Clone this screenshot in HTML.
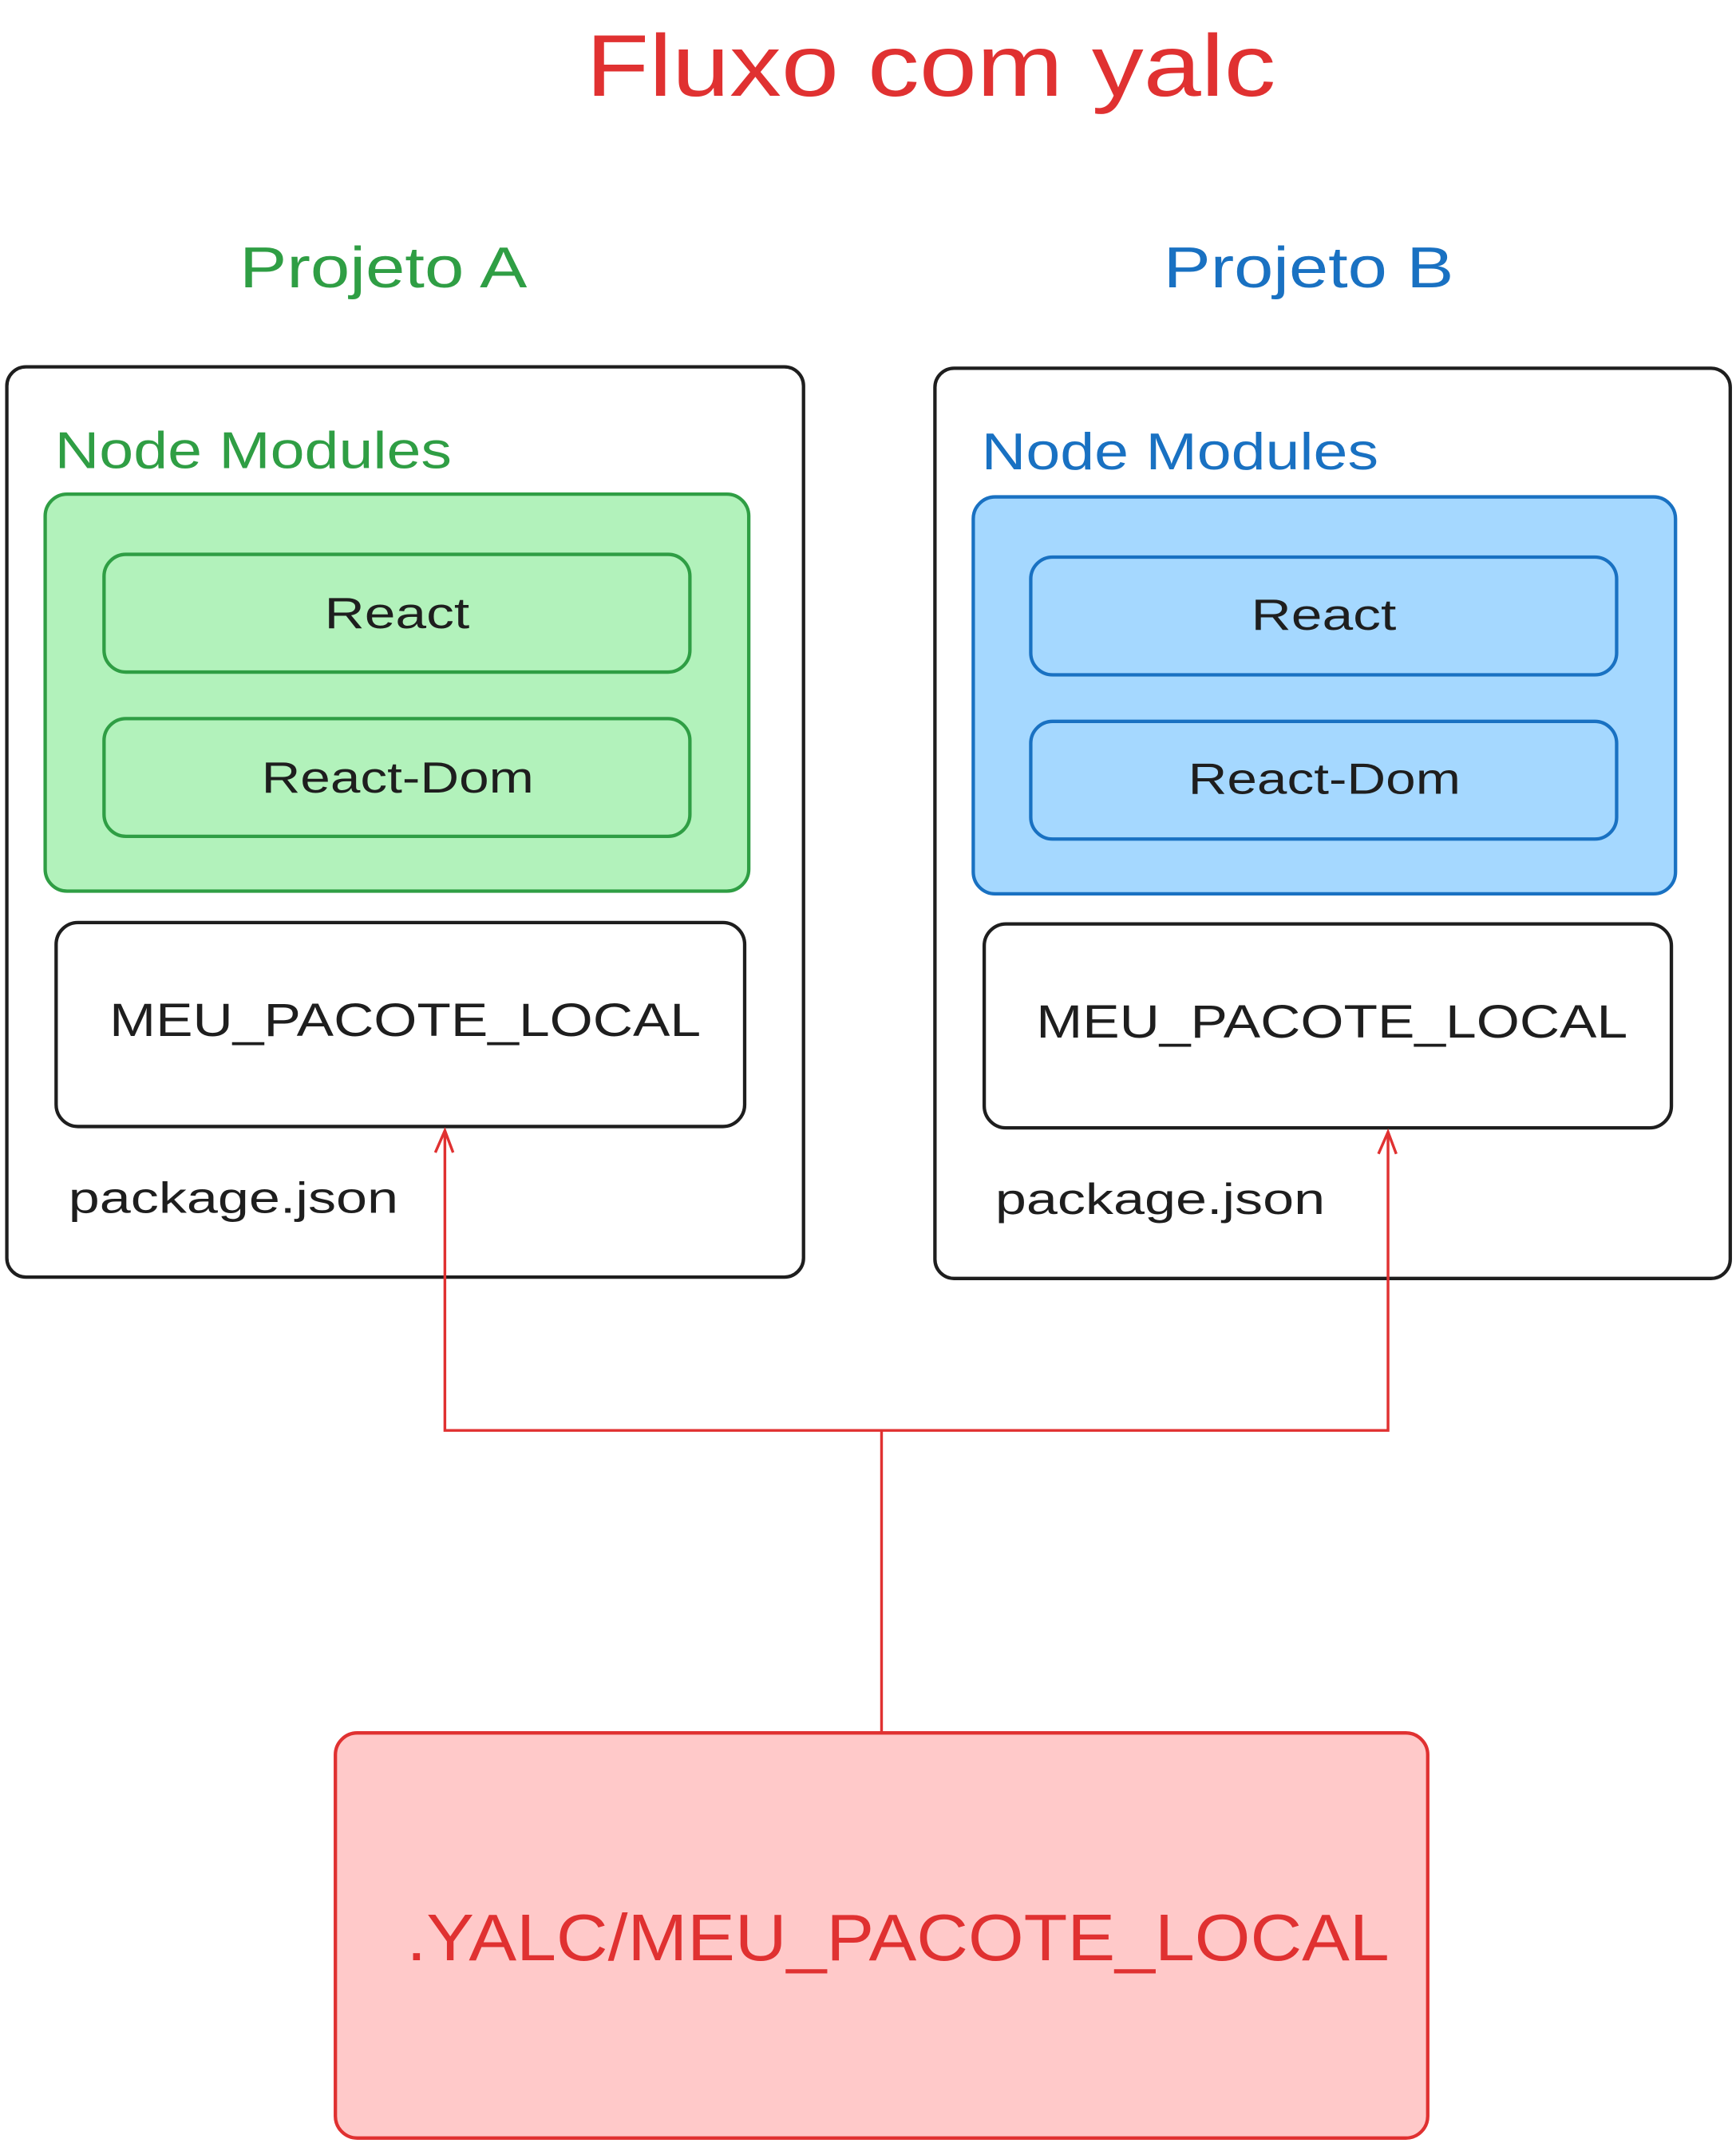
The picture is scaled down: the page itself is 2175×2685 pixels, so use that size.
<!DOCTYPE html>
<html><head><meta charset="utf-8"><style>
html,body{margin:0;padding:0;background:#fff;}
svg{display:block;}
text{font-family:"Liberation Sans",sans-serif;}
</style></head><body>
<svg width="2175" height="2685" viewBox="0 0 1268.2 1565.6" preserveAspectRatio="none" xmlns="http://www.w3.org/2000/svg">
<rect width="1268.2" height="1565.6" fill="#fff"/>
<text x="428" y="70" font-size="64" fill="#e03131" textLength="504" lengthAdjust="spacingAndGlyphs">Fluxo com yalc</text>
<text x="175" y="210" font-size="42" fill="#2f9e44" textLength="210" lengthAdjust="spacingAndGlyphs">Projeto A</text>
<text x="850" y="210" font-size="42" fill="#1971c2" textLength="212" lengthAdjust="spacingAndGlyphs">Projeto B</text>

<!-- Box A -->
<rect x="5" y="268" width="582" height="665" rx="14" fill="#fff" stroke="#1e1e1e" stroke-width="2.5"/>
<text x="40" y="342" font-size="38" fill="#2f9e44" textLength="290" lengthAdjust="spacingAndGlyphs">Node Modules</text>
<rect x="33" y="361" width="514" height="290" rx="16" fill="#b2f2bb" stroke="#2f9e44" stroke-width="2.5"/>
<rect x="76" y="405" width="428" height="86" rx="16" fill="#b2f2bb" stroke="#2f9e44" stroke-width="2.5"/>
<text x="237" y="459" font-size="32" fill="#1e1e1e" textLength="106" lengthAdjust="spacingAndGlyphs">React</text>
<rect x="76" y="525" width="428" height="86" rx="16" fill="#b2f2bb" stroke="#2f9e44" stroke-width="2.5"/>
<text x="191" y="579" font-size="32" fill="#1e1e1e" textLength="199" lengthAdjust="spacingAndGlyphs">React-Dom</text>
<rect x="41" y="674" width="503" height="149" rx="16" fill="#fff" stroke="#1e1e1e" stroke-width="2.5"/>
<text x="80" y="757" font-size="34" fill="#1e1e1e" textLength="432" lengthAdjust="spacingAndGlyphs">MEU_PACOTE_LOCAL</text>
<text x="50" y="886" font-size="32" fill="#1e1e1e" textLength="241" lengthAdjust="spacingAndGlyphs">package.json</text>

<!-- Box B -->
<rect x="683" y="269" width="581" height="665" rx="14" fill="#fff" stroke="#1e1e1e" stroke-width="2.5"/>
<text x="717" y="343" font-size="38" fill="#1971c2" textLength="290" lengthAdjust="spacingAndGlyphs">Node Modules</text>
<rect x="711" y="363" width="513" height="290" rx="16" fill="#a5d8ff" stroke="#1971c2" stroke-width="2.5"/>
<rect x="753" y="407" width="428" height="86" rx="16" fill="#a5d8ff" stroke="#1971c2" stroke-width="2.5"/>
<text x="914" y="460" font-size="32" fill="#1e1e1e" textLength="106" lengthAdjust="spacingAndGlyphs">React</text>
<rect x="753" y="527" width="428" height="86" rx="16" fill="#a5d8ff" stroke="#1971c2" stroke-width="2.5"/>
<text x="868" y="580" font-size="32" fill="#1e1e1e" textLength="199" lengthAdjust="spacingAndGlyphs">React-Dom</text>
<rect x="719" y="675" width="502" height="149" rx="16" fill="#fff" stroke="#1e1e1e" stroke-width="2.5"/>
<text x="757" y="758" font-size="34" fill="#1e1e1e" textLength="432" lengthAdjust="spacingAndGlyphs">MEU_PACOTE_LOCAL</text>
<text x="727" y="887" font-size="32" fill="#1e1e1e" textLength="241" lengthAdjust="spacingAndGlyphs">package.json</text>

<!-- connectors -->
<g stroke="#e03131" stroke-width="2" fill="none">
<path d="M644 1265 L644 1045 L325 1045 L325 826"/>
<path d="M644 1045 L1014 1045 L1014 827"/>
<path d="M318 842 L325 826 L331 842"/>
<path d="M1007 843 L1014 827 L1020 843"/>
</g>

<!-- Yalc box -->
<rect x="245" y="1266" width="798" height="296" rx="16" fill="#ffc9c9" stroke="#e03131" stroke-width="2.5"/>
<text x="297" y="1432" font-size="48" fill="#e03131" textLength="718" lengthAdjust="spacingAndGlyphs">.YALC/MEU_PACOTE_LOCAL</text>
</svg>
</body></html>
